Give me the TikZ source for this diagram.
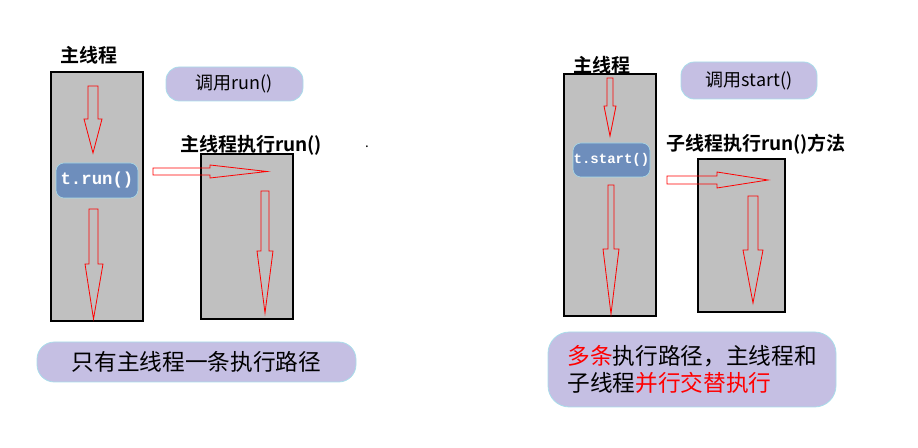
\documentclass[tikz,border=0pt]{standalone}
\usepackage{fontspec}
\setmainfont{Noto Sans CJK SC}
\newfontfamily\cjkbold{Noto Sans CJK SC Bold}
\newfontfamily\monof{Liberation Mono}
\definecolor{gbox}{HTML}{C0C0C0}
\definecolor{lav}{HTML}{C5BFE3}
\definecolor{lavedge}{HTML}{A9DDEA}
\definecolor{bluebox}{HTML}{6E8EBC}
\definecolor{arrred}{HTML}{FF0000}
\newcommand\varrowshape[7]{%
  \draw[arrowline] (#1,#3) -- (#2,#3) -- (#2,#4) -- (#6,#4) -- ({(#1+#2)/2},#7) -- (#5,#4) -- (#1,#4) -- cycle;}
\newcommand\harrowshape[7]{%
  \draw[arrowline] (#1,#3) -- (#1,#4) -- (#2,#4) -- (#2,#6) -- (#7,{(#3+#4)/2}) -- (#2,#5) -- (#2,#3) -- cycle;}
\begin{document}
\begin{tikzpicture}[x=0.75pt,y=-0.75pt,
  threadbox/.style={draw=black,line width=0.8pt,fill=gbox,inner sep=0pt},
  callbox/.style={draw=lavedge,line width=0.6pt,fill=lav,inner sep=0pt,rounded corners=10pt,font=\fontsize{13.5}{15}\selectfont},
  notebox/.style={draw=lavedge,line width=0.6pt,fill=lav,inner sep=0pt,font=\fontsize{17}{20.25}\selectfont},
  codebox/.style={draw=lavedge,line width=0.4pt,fill=bluebox,inner sep=0pt,rounded corners=6pt,text=white,font=\monof\bfseries},
  title/.style={inner sep=0pt,font=\cjkbold\fontsize{14.25}{16}\selectfont},
  arrowline/.style={draw=arrred,line width=0.6pt}]
\useasboundingbox (0,0) rectangle (918,448);
% ---- left part
\node[title] (lmt) at (89,55) {主线程};
\node[threadbox,minimum width=69pt,minimum height=186.75pt] (lmain) at (97,196.5) {};
\node[callbox,minimum width=102.75pt,minimum height=25.5pt] (lcall) at (234.5,84) {调用run()};
\node[title] (lst) at (251,145) {主线程执行run()};
\node[threadbox,minimum width=69pt,minimum height=123.75pt] (lsub) at (247,236.5) {};
\node[inner sep=0pt,font=\fontsize{10}{12}\selectfont] (dot) at (367,147) {.};
\varrowshape{88}{98}{86}{119}{84}{102}{153}
\varrowshape{89}{98}{209}{264}{85}{103}{319}
\node[codebox,minimum width=61.5pt,minimum height=26.25pt,font=\monof\bfseries\fontsize{13}{14}\selectfont] (lcode) at (97,180.5) {t.run()};
\harrowshape{153}{210}{168}{175}{165}{178}{267}
\varrowshape{261}{269}{191}{251}{257}{273}{313}
\node[notebox,rounded corners=13pt,minimum width=239.25pt,minimum height=30pt] (lnote) at (196.5,362) {只有主线程一条执行路径};
% ---- right part
\node[title] (rmt) at (602,65) {主线程};
\node[threadbox,minimum width=69pt,minimum height=181.5pt] (rmain) at (610,195) {};
\node[callbox,minimum width=102pt,minimum height=27.75pt] (rcall) at (749,80.5) {调用start()};
\node[title] (rst) at (756,144) {子线程执行run()方法};
\node[threadbox,minimum width=65.25pt,minimum height=114.75pt] (rsub) at (741.5,235.5) {};
\varrowshape{607}{613}{78}{106}{604}{616}{136}
\varrowshape{608}{614}{185}{249}{603}{619}{314}
\node[codebox,minimum width=57.75pt,minimum height=25.5pt,font=\monof\bfseries\fontsize{10.5}{12}\selectfont] (rcode) at (611.5,160) {t.start()};
\harrowshape{667}{717}{176}{184}{172}{188}{768}
\varrowshape{748}{758}{196}{250}{743}{763}{303}
\node[notebox,rounded corners=16pt,minimum width=216pt,minimum height=56.25pt,align=left] (rnote) at (692,369.5) {\textcolor{arrred}{多条}执行路径，主线程和\\子线程\textcolor{arrred}{并行交替执行}};
\end{tikzpicture}
\end{document}
